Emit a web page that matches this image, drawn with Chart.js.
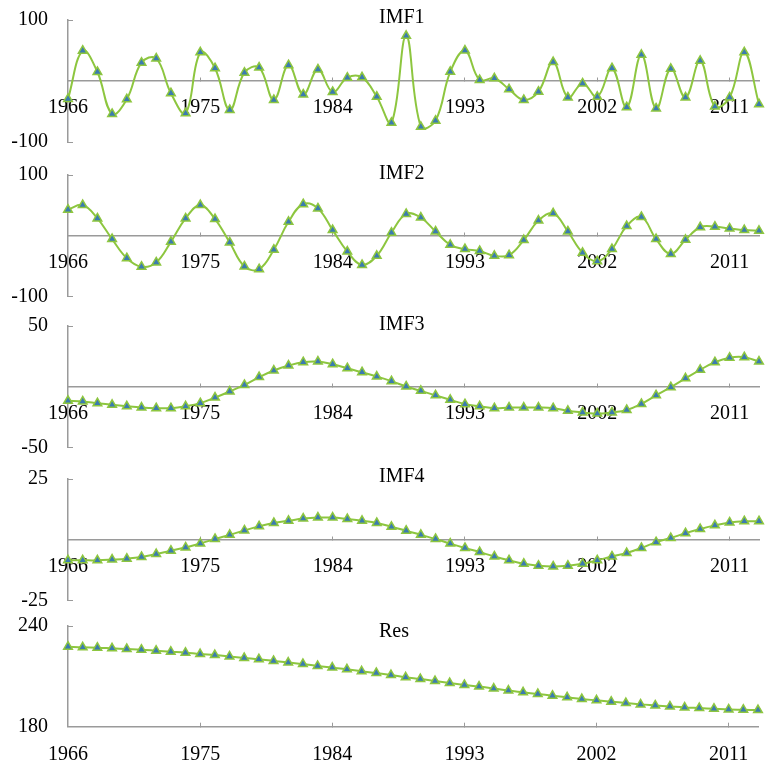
<!DOCTYPE html>
<html>
<head>
<meta charset="utf-8">
<script src="https://cdn.jsdelivr.net/npm/chart.js@4.4.1/dist/chart.umd.min.js"></script>
<style>
  html, body { margin: 0; padding: 0; background: #fff; }
  #wrap { position: relative; width: 778px; height: 767px; overflow: hidden; }
  #wrap canvas { position: absolute; left: 0; }
</style>
</head>
<body>
<div id="wrap">
  <canvas id="imf1"></canvas>
  <canvas id="imf2"></canvas>
  <canvas id="imf3"></canvas>
  <canvas id="imf4"></canvas>
  <canvas id="res"></canvas>
</div>
<script>
// categories
const years = ['1966','1967','1968','1969','1970','1971','1972','1973','1974','1975',
  '1976','1977','1978','1979','1980','1981','1982','1983','1984','1985','1986','1987',
  '1988','1989','1990','1991','1992','1993','1994','1995','1996','1997','1998','1999',
  '2000','2001','2002','2003','2004','2005','2006','2007','2008','2009','2010','2011',
  '2012','2013'];
const yearLabels = ['1966', '1975', '1984', '1993', '2002', '2011'];

// series values
const imf1 = [-29.5, 49.7, 14.8, -54, -30, 30, 37, -20, -53, 47, 21, -47.5, 13.7, 22, -31, 26,
  -22, 19, -18, 5.5, 6, -25.7, -68.5, 74, -75, -65, 15, 50, 1.6, 4.4, -13.7, -31, -17.5, 31,
  -27, -4, -26, 21, -43, 43, -45, 20, -27, 33, -42, -27, 47, -38];
const imf2 = [43, 50.5, 28.6, -5.5, -37, -51, -44, -10, 28.6, 50.5, 27.5, -11, -50.5, -55, -23,
  23, 52, 45, 9.3, -26, -48, -33, 5, 36, 30, 7, -15, -22, -25, -33, -32, -7, 25, 37, 7, -28,
  -42, -22, 16, 31, -5.5, -30, -6.6, 14, 15, 12, 9.3, 8.2];
const imf3 = [-11.5, -12, -13.4, -14.8, -16, -17, -17.5, -17.5, -16, -13.4, -8.8, -3.8, 1.6, 8,
  13.4, 17.5, 20.3, 20.8, 18.6, 15.3, 12, 8.5, 4.7, 0.3, -3.3, -7, -10.7, -14.2, -16, -17.5,
  -17, -17, -17, -17.5, -19.7, -21, -22, -21, -19, -14, -7, -0.3, 7, 14, 20.3, 24, 24.4, 20.8];
const imf4 = [-8.5, -8.5, -8.5, -8.2, -7.8, -7.1, -5.9, -4.5, -3.2, -1.6, 0.3, 2, 3.8, 5.5, 6.9,
  7.8, 8.7, 9.1, 9.1, 8.5, 7.8, 6.9, 5.3, 3.7, 2, 0.3, -1.6, -3.4, -5.1, -6.9, -8.5, -9.9,
  -10.7, -11, -10.7, -9.9, -8.5, -6.9, -5.5, -3.4, -1, 0.7, 2.7, 4.4, 5.9, 7.1, 7.6, 7.6];
const res = [227.7, 227.3, 227.1, 226.7, 226.3, 225.9, 225.3, 224.7, 224.1, 223.3, 222.7, 221.9,
  221, 220.2, 219.2, 218.2, 217.4, 216.2, 215.2, 214.2, 213, 212, 210.8, 209.4, 208.4, 207.2,
  206, 204.9, 203.9, 202.7, 201.5, 200.5, 199.5, 198.5, 197.5, 196.5, 195.7, 194.9, 194.1,
  193.3, 192.7, 192.1, 191.5, 191.1, 190.7, 190.3, 190.1, 189.9];

// y tick labels (min / max of each panel)
const yMins = [-100, -100, -50, -25, 180];
const yMaxs = [100, 100, 50, 25, 240];
const names = ['IMF1', 'IMF2', 'IMF3', 'IMF4', 'Res'];
const series = [imf1, imf2, imf3, imf4, res];

// layout of the panels on the page (plot area top/bottom, panel name centre)
const panelTops = [20, 175, 326, 479.3, 626];
const panelBottoms = [142, 296.5, 447.7, 600.7, 726.7];
const nameYs = [17.5, 173.5, 324.5, 477.5, 631.5];

const FONT = '"Liberation Serif", "Times New Roman", serif';
const AXIS = '#9a9a9a';
const LINE = '#8dc63f';
const MARK = '#3b7bb0';
const PAD = 20;

const panelName = {
  id: 'panelName',
  afterDraw(chart, args, opts) {
    const ctx = chart.ctx;
    ctx.save();
    ctx.font = '20px ' + FONT;
    ctx.fillStyle = '#000';
    ctx.textAlign = 'left';
    ctx.textBaseline = 'middle';
    ctx.fillText(opts.text, opts.x, opts.y);
    ctx.restore();
  }
};

names.forEach((name, i) => {
  const canvas = document.getElementById(name.toLowerCase());
  const isRes = i === names.length - 1;
  const top = panelTops[i] - PAD;
  const height = isRes ? 767 - top : (panelBottoms[i] - panelTops[i]) + 2 * PAD;
  canvas.style.top = top + 'px';
  canvas.width = 778;
  canvas.height = Math.round(height);
  canvas.style.width = '778px';
  canvas.style.height = Math.round(height) + 'px';

  new Chart(canvas, {
    type: 'line',
    data: {
      labels: years,
      datasets: [{
        data: series[i],
        borderColor: LINE,
        borderWidth: 2,
        tension: 0.4,
        pointStyle: 'triangle',
        pointRadius: 5,
        pointBackgroundColor: MARK,
        pointBorderColor: LINE,
        pointBorderWidth: 1.5,
        clip: false
      }]
    },
    options: {
      responsive: false,
      animation: false,
      events: [],
      layout: { padding: { top: PAD, bottom: isRes ? 0 : (canvas.height - PAD - (panelBottoms[i] - panelTops[i])), left: 0, right: 5 } },
      plugins: {
        legend: { display: false },
        tooltip: { enabled: false },
        panelName: { text: name, x: 379, y: nameYs[i] - top }
      },
      scales: {
        x: {
          type: 'category',
          position: isRes ? 'bottom' : { y: 0 },
          offset: false,
          z: isRes ? 0 : 1,
          border: { display: true, color: AXIS, width: 1.5 },
          grid: {
            drawOnChartArea: false,
            drawTicks: true,
            tickLength: -4,
            tickWidth: 1,
            tickColor: ctx => (ctx.index > 0 && ctx.index % 9 === 0) ? AXIS : 'rgba(0,0,0,0)'
          },
          ticks: {
            autoSkip: false,
            maxRotation: 0,
            minRotation: 0,
            padding: isRes ? 20 : 19,
            color: '#000',
            font: { family: FONT, size: 20 },
            showLabelBackdrop: !isRes,
            backdropColor: '#ffffff',
            backdropPadding: { top: -2, bottom: -3, left: 0, right: 0 },
            callback: function (value) {
              const lab = this.getLabelForValue(value);
              return yearLabels.includes(lab) ? lab : '';
            }
          },
          afterFit: s => {
            if (isRes) s.height = 767 - panelBottoms[i];
            else s.height = 0;
            s.paddingTop = 0;
            s.paddingBottom = 0;
          }
        },
        y: {
          min: yMins[i],
          max: yMaxs[i],
          border: { display: true, color: AXIS, width: 1.5 },
          grid: {
            drawOnChartArea: false,
            drawTicks: true,
            tickLength: -5,
            color: AXIS
          },
          ticks: {
            padding: 25,
            color: '#000',
            font: { family: FONT, size: 20 }
          },
          afterBuildTicks: s => { s.ticks = [{ value: yMins[i] }, { value: yMaxs[i] }]; },
          afterFit: s => {
            s.width = 68;
            s.paddingTop = 0;
            s.paddingBottom = 0;
          }
        }
      }
    },
    plugins: [panelName]
  });
});
</script>
</body>
</html>
